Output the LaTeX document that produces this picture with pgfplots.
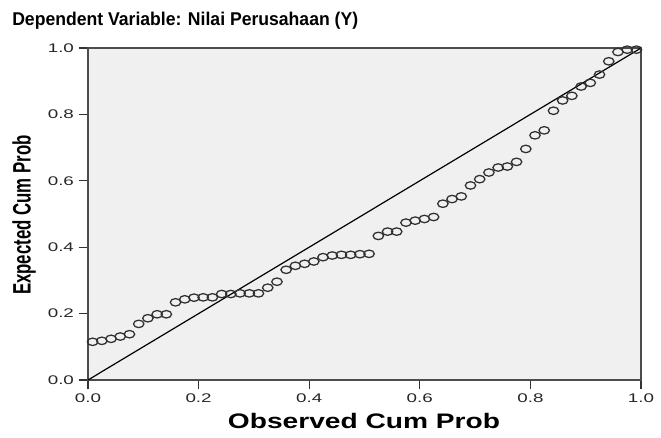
\documentclass[border=0pt]{standalone}
\usepackage{pgfplots}
\pgfplotsset{compat=1.18}
\usepackage{fontspec}
\setmainfont{Liberation Sans}
\definecolor{bgc}{HTML}{F0F0F0}
\definecolor{mk}{HTML}{303030}
\pgfplotstableread{
x y
0.0083 0.115
0.0250 0.118
0.0417 0.124
0.0583 0.131
0.0750 0.138
0.0917 0.169
0.1083 0.186
0.1250 0.198
0.1417 0.198
0.1583 0.234
0.1750 0.243
0.1917 0.248
0.2083 0.249
0.2250 0.249
0.2417 0.259
0.2583 0.259
0.2750 0.261
0.2917 0.261
0.3083 0.261
0.3250 0.278
0.3417 0.296
0.3583 0.332
0.3750 0.344
0.3917 0.350
0.4083 0.357
0.4250 0.370
0.4417 0.375
0.4583 0.377
0.4750 0.377
0.4917 0.379
0.5083 0.380
0.5250 0.434
0.5417 0.447
0.5583 0.447
0.5750 0.474
0.5917 0.480
0.6083 0.485
0.6250 0.491
0.6417 0.531
0.6583 0.545
0.6750 0.553
0.6917 0.586
0.7083 0.605
0.7250 0.625
0.7417 0.640
0.7583 0.643
0.7750 0.657
0.7917 0.696
0.8083 0.737
0.8250 0.752
0.8417 0.811
0.8583 0.842
0.8750 0.856
0.8917 0.884
0.9083 0.895
0.9250 0.920
0.9417 0.960
0.9583 0.988
0.9750 0.995
0.9917 0.995
}\pp
\begin{document}
\begin{tikzpicture}
\path[use as bounding box] (0,0) rectangle (495.75pt,327.75pt);
\node[anchor=base west, inner sep=0pt, font=\fontsize{13.2pt}{14pt}\selectfont\bfseries] at (9pt,309pt)
  {\scalebox{1.0}[1.05]{Dependent Variable: Nilai Perusahaan (Y)}};
\node[rotate=90, inner sep=0pt, font=\fontsize{12.6pt}{14pt}\selectfont\bfseries] at (18pt,166.5pt)
  {\scalebox{1}[1.5]{Expected Cum Prob}};
\node[anchor=base, inner sep=0pt, font=\fontsize{15.75pt}{17pt}\selectfont\bfseries] at (273pt,6.75pt)
  {\scalebox{1.34}[1]{Observed Cum Prob}};
\begin{axis}[
  at={(66pt,42.75pt)}, anchor=south west,
  scale only axis, width=414.75pt, height=249pt,
  xmin=0, xmax=1, ymin=0, ymax=1,
  xtick={0,0.2,0.4,0.6,0.8,1},
  ytick={0,0.2,0.4,0.6,0.8,1},
  xticklabels={\scalebox{1.5}[1]{0.0},\scalebox{1.5}[1]{0.2},\scalebox{1.5}[1]{0.4},\scalebox{1.5}[1]{0.6},\scalebox{1.5}[1]{0.8},\scalebox{1.5}[1]{1.0}},
  yticklabels={\scalebox{1.5}[1]{0.0},\scalebox{1.5}[1]{0.2},\scalebox{1.5}[1]{0.4},\scalebox{1.5}[1]{0.6},\scalebox{1.5}[1]{0.8},\scalebox{1.5}[1]{1.0}},
  tick label style={font=\fontsize{9.4pt}{11pt}\selectfont, color=black!85},
  tick align=outside, xtick pos=bottom, ytick pos=left,
  major tick length=7pt,
  tick style={black!80, line width=0.9pt},
  axis line style={draw=black!70, line width=1.1pt},
  axis background/.style={fill=bgc},
  clip=false,
]
\addplot[black, line width=0.9pt, forget plot] coordinates {(0,0) (1,1)};
\addplot[only marks, mark=o, mark size=2.8pt, mark options={draw=mk, line width=0.95pt, xscale=1.4}] table[x=x,y=y] {\pp};
\end{axis}
\end{tikzpicture}
\end{document}
